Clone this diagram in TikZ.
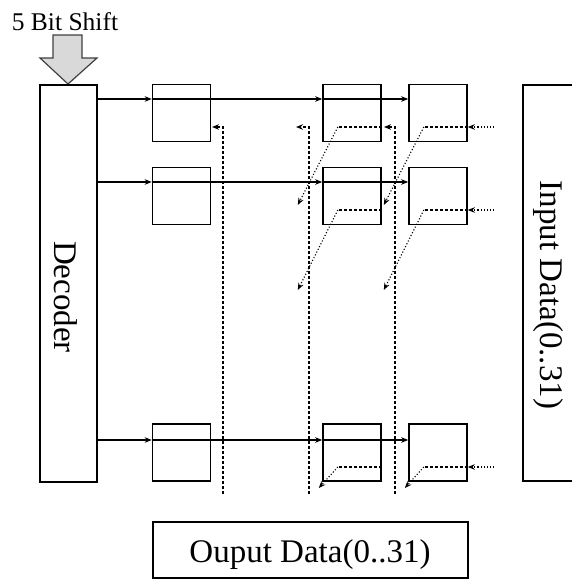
\documentclass[tikz,border=0pt]{standalone}
\usepackage{fontspec}
\setmainfont{Liberation Serif}
\usetikzlibrary{arrows.meta,positioning}

\newcommand{\blockfont}{\fontsize{33}{33}\selectfont}

\tikzset{
    cell/.style={draw, line width=1.6pt, minimum width=58pt, minimum height=57pt, inner sep=0pt},
    bigbox/.style={draw, line width=1.4pt, inner sep=0pt},
    bigtext/.style={font=\blockfont, inner sep=0pt},
    selline/.style={line width=1.3pt, -{Stealth[length=7pt, width=5.5pt]}},
    outline/.style={line width=1.2pt, dash pattern=on 3pt off 2pt, -{Stealth[length=7pt, width=5.5pt]}},
    cellline/.style={line width=1.2pt, dash pattern=on 3pt off 2pt},
    inline/.style={line width=1.1pt, dotted, -{Stealth[length=7pt, width=5.5pt]}},
    shiftline/.style={line width=1.1pt, dotted, -{Stealth[open, length=7pt, width=5.5pt]}},
    shiftarrow/.style={draw=black!75, line width=1.2pt, fill=gray!30}
}

\begin{document}
\begin{tikzpicture}[x=1pt, y=-1pt]
    \useasboundingbox (0,0) rectangle (572,583);

    % shift amount input
    \node[font=\fontsize{25.5}{25.5}\selectfont, inner sep=0pt] (shifttxt) at (65,22) {5 Bit Shift};
    \draw[shiftarrow] (53,35) -- (82,35) -- (82,58) -- (97,58) -- (68,84) -- (40,58) -- (53,58) -- cycle;

    % decoder, input and output blocks
    \node[bigbox, minimum width=57pt, minimum height=397pt] (dec) at (68.5,283.5) {};
    \node[bigtext, rotate=-90] (dectxt) at (66,297) {Decoder};
    \node[bigbox, minimum width=57pt, minimum height=396pt] (inp) at (551.5,283) {};
    \node[bigtext, rotate=-90] (inptxt) at (548,295) {Input Data(0..31)};
    \node[bigbox, minimum width=315pt, minimum height=56pt] (outp) at (310.5,550) {};
    \node[bigtext] (outptxt) at (310,555) {Ouput Data(0..31)};

    % shifter cells
    \foreach \c/\x in {1/181.5, 2/352, 3/438} {
        \foreach \r/\y in {1/113, 2/196, 3/452.5} {
            \node[cell] (c\c\r) at (\x,\y) {};
        }
    }

    % select lines from the decoder
    \foreach \r/\y in {1/99, 2/182, 3/440} {
        \coordinate (sel\r) at (0,\y);
        \draw[selline] (dec.east |- sel\r) -- (c1\r.west |- sel\r);
        \draw[selline] (c1\r.west |- sel\r) -- (c2\r.west |- sel\r);
        \draw[selline] (c2\r.west |- sel\r) -- (c3\r.west |- sel\r);
    }

    % data lines through the cells
    \foreach \r/\y in {1/127, 2/210, 3/467} {
        \coordinate (dat\r) at (0,\y);
        \coordinate (in\r) at (494,\y);
        \draw[inline] (in\r) -- (c3\r.east |- dat\r);
        \draw[cellline] (c3\r.east |- dat\r) -- ++(-44,0) coordinate (k3\r);
        \draw[cellline] (c2\r.east |- dat\r) -- ++(-44,0) coordinate (k2\r);
    }

    % shifted data
    \foreach \r/\dx/\dy in {1/-40/78, 2/-40/80, 3/-19/21} {
        \draw[shiftline] (k2\r) -- ++(\dx,\dy) coordinate (e2\r);
        \draw[shiftline] (k3\r) -- ++(\dx,\dy) coordinate (e3\r);
    }

    % output lines
    \foreach \v/\x/\tx in {1/223/212, 2/309/296, 3/395/384} {
        \coordinate (top\v) at (\x,127);
        \coordinate (bot\v) at (\x,494);
        \coordinate (tip\v) at (\tx,127);
        \draw[outline] (bot\v) -- (top\v) -- (tip\v);
    }
\end{tikzpicture}
\end{document}
